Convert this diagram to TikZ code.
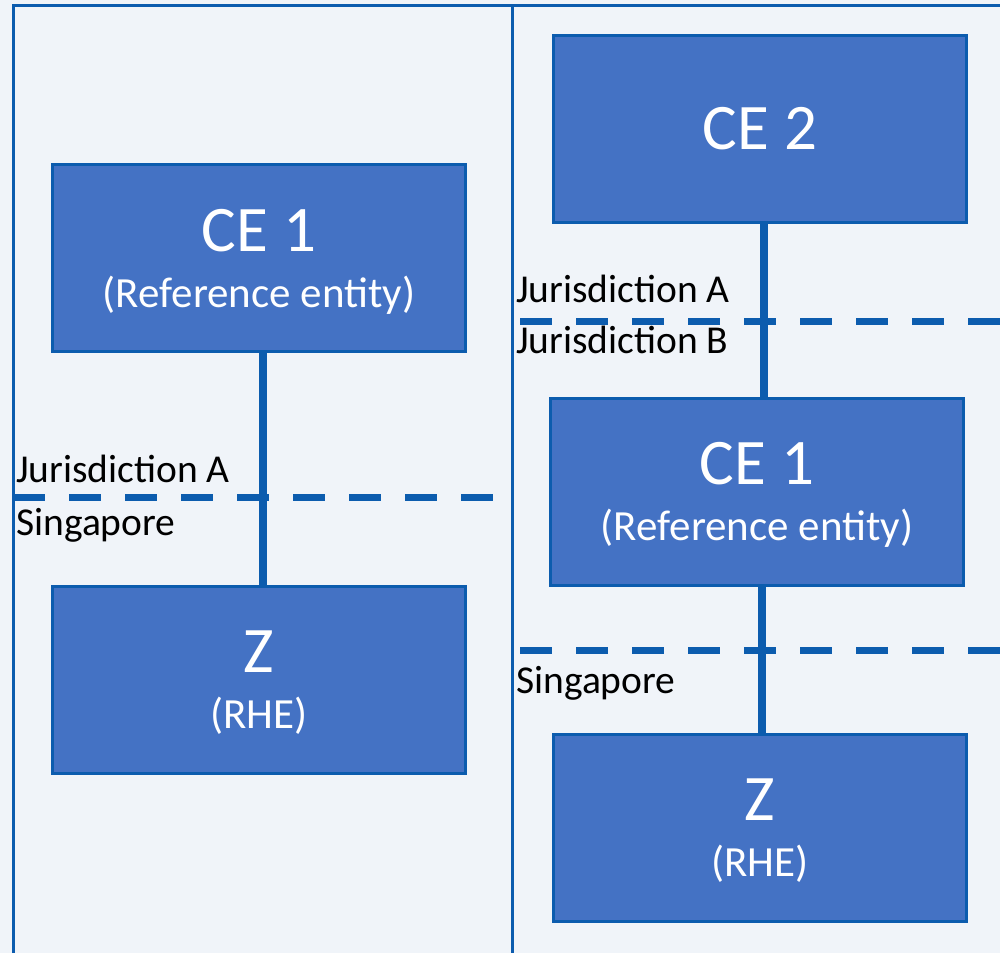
\documentclass[tikz,border=0pt]{standalone}
\usepackage{fontspec}
\setmainfont{Carlito}
\usetikzlibrary{positioning}

\definecolor{bgcol}{RGB}{240,244,249}
\definecolor{linecol}{RGB}{12,92,174}
\definecolor{boxcol}{RGB}{68,114,196}

\begin{document}
\begin{tikzpicture}[x=1pt,y=-1pt]
    \begin{scope}[on grid, text centered,
    		entity/.style={rectangle,draw=linecol,line width=3pt,fill=boxcol,text=white,
    			minimum width=413pt,minimum height=187pt,align=center,text depth=0pt,
    			font=\fontsize{43}{56}\selectfont},
    		link/.style={linecol,line width=8pt},
    		border/.style={dashed,linecol,line width=7pt,dash pattern=on 32pt off 24pt},
    		frame/.style={linecol,line width=3pt},
    		juris/.style={anchor=base west,inner sep=0pt,font=\fontsize{39.5}{40}\selectfont}]

    \fill[bgcol] (0,0) rectangle (1000,953);
    \useasboundingbox (0,0) rectangle (1000,953);

    % left case
    \node[entity](ce1l) at (259,258)
    {{\fontsize{65}{56}\selectfont CE 1}\\(Reference entity)};
    \node[entity,node distance=422pt,below=of ce1l](zl)
    {{\fontsize{65}{56}\selectfont Z}\\(RHE)};

    % right case
    \node[entity](ce2) at (760,128.5)
    {\fontsize{65}{56}\selectfont CE 2};
    \node[entity,xshift=-3pt,node distance=363pt,below=of ce2](ce1r)
    {{\fontsize{65}{56}\selectfont CE 1}\\(Reference entity)};
    \node[entity,xshift=3pt,node distance=336pt,below=of ce1r](zr)
    {{\fontsize{65}{56}\selectfont Z}\\(RHE)};

    \draw[link] ([xshift=4pt]ce1l.south) -- ([xshift=4pt]zl.north);
    \draw[link] ([xshift=4pt]ce2.south) -- ([xshift=7pt]ce1r.north);
    \draw[link] ([xshift=5pt]ce1r.south) -- ([xshift=2pt]zr.north);

    % jurisdiction borders
    \draw[border] (13,497) -- (495,497);
    \draw[border] (520,321.5) -- (1000,321.5);
    \draw[border] (520,650.5) -- (1000,650.5);

    \node[juris](jal) at (16,482) {Jurisdiction A};
    \node[juris](sgl) at (16,535) {Singapore};
    \node[juris](jar) at (516,302) {Jurisdiction A};
    \node[juris](jbr) at (516,353) {Jurisdiction B};
    \node[juris](sgr) at (516,693) {Singapore};

    \draw[frame] (13,953) -- (13,5) -- (1000,5);
    \draw[frame] (512,5) -- (512,953);
    \end{scope}
\end{tikzpicture}
\end{document}
